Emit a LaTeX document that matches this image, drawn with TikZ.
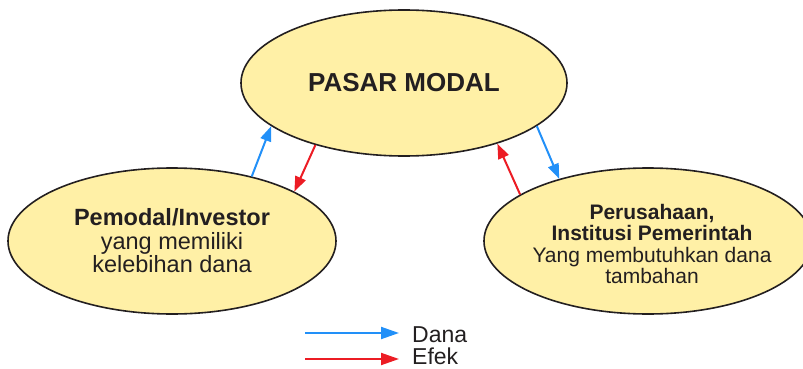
\documentclass[tikz,border=0pt]{standalone}
\usepackage{fontspec}
\setmainfont{Liberation Sans}
\usepackage{tikz}
\usetikzlibrary{shapes.geometric, arrows.meta, calc}
\definecolor{giallo}{HTML}{FFF0A6}
\definecolor{blu}{HTML}{2290F8}
\definecolor{rosso}{HTML}{EC1C24}
\definecolor{testo}{HTML}{231F20}

\begin{document}
\begin{tikzpicture}[x = 1pt, y = -1pt,
    bolla/.style = {ellipse, draw = testo, line width = 1.6pt, fill = giallo, inner sep = 0pt, text = testo, align = center,
        minimum width = 328pt, minimum height = 146pt},
    dana/.style = {draw = blu, line width = 2pt, -{Triangle[length = 15pt, width = 11pt]}},
    efek/.style = {draw = rosso, line width = 2pt, -{Triangle[length = 15pt, width = 11pt]}},
    legenda/.style = {line width = 2pt, shorten >= 13pt, -{Triangle[length = 18pt, width = 12pt]}}]
    % Cornice
    \useasboundingbox (0,0) rectangle (803,369);
    % Ellissi
    \node[bolla, minimum width = 326pt, font = \fontsize{26}{28}\selectfont\bfseries] (pasar) at (404,83) {PASAR MODAL};
    \node[bolla, font = \fontsize{23.5}{23.5}\selectfont] (pemodal) at (172,241)
        {\textbf{Pemodal/Investor}\\yang memiliki\\kelebihan dana};
    \node[bolla] (perusahaan) at (648,241) {};
    \node[text = testo, align = center, font = \fontsize{21}{21.5}\selectfont] (perusahaanteks) at (652,244)
        {\textbf{Perusahaan,}\\\textbf{Institusi Pemerintah}\\Yang membutuhkan dana\\tambahan};
    % Frecce
    \draw[dana] (pemodal.39) -- (pasar.198);
    \draw[efek] (pasar.215) -- (pemodal.22);
    \draw[efek] (perusahaan.160) -- (pasar.327);
    \draw[dana] (pasar.342) -- (perusahaan.145);
    % Legenda
    \coordinate (d0) at (305,333);
    \coordinate (e0) at (305,359);
    \node[anchor = base west, inner sep = 0pt, text = testo, font = \fontsize{23}{23}\selectfont] (danalbl) at (412,342) {Dana};
    \node[anchor = base west, inner sep = 0pt, text = testo, font = \fontsize{23}{23}\selectfont] (efeklbl) at (412,364) {Efek};
    \draw[legenda, draw = blu] (d0) -- (d0 -| danalbl.west);
    \draw[legenda, draw = rosso] (e0) -- (e0 -| efeklbl.west);
\end{tikzpicture}
\end{document}
